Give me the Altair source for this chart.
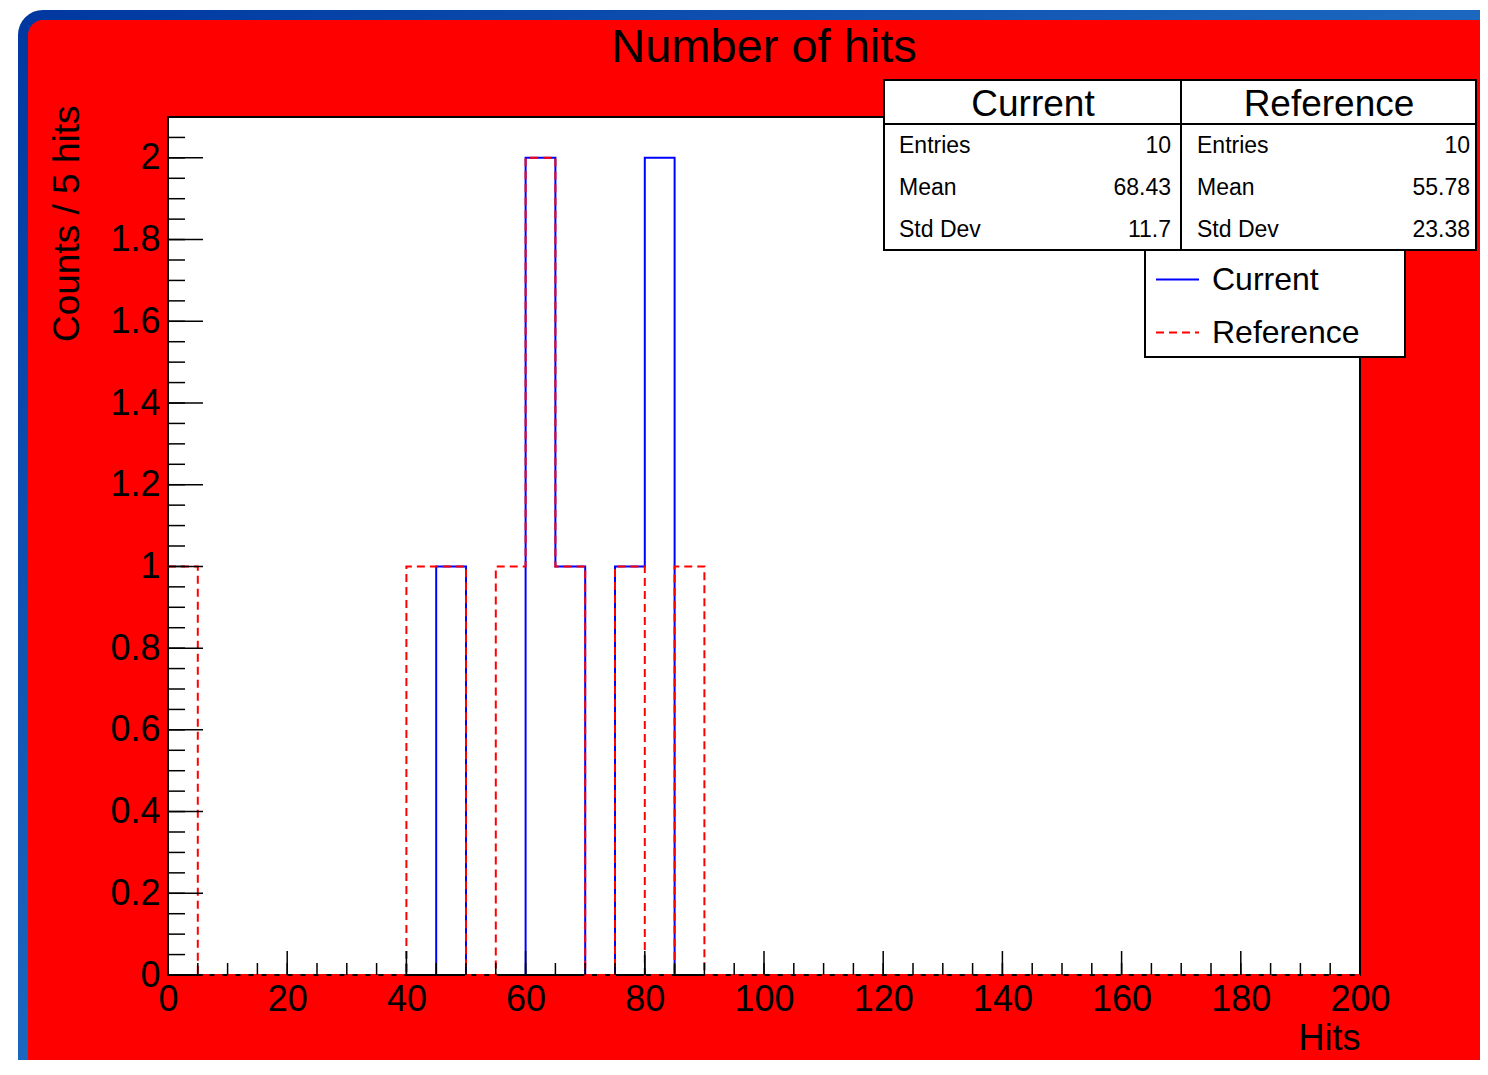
import altair as alt
import pandas as pd

FONT = "Liberation Sans"

# ---------------- data ----------------
bin_width = 5
x_domain = [0, 200]
y_domain = [0, 2.1]
current_counts = [0, 0, 0, 0, 0, 0, 0, 0, 0, 1,
                  0, 0, 2, 1, 0, 1, 2, 0, 0, 0,
                  0, 0, 0, 0, 0, 0, 0, 0, 0, 0,
                  0, 0, 0, 0, 0, 0, 0, 0, 0, 0]
reference_counts = [1, 0, 0, 0, 0, 0, 0, 0, 1, 1,
                    0, 1, 2, 1, 0, 1, 0, 1, 0, 0,
                    0, 0, 0, 0, 0, 0, 0, 0, 0, 0,
                    0, 0, 0, 0, 0, 0, 0, 0, 0, 0]
series_names = ["Current", "Reference"]
series_colors = ["#0000ff", "#ff0000"]
series_dashes = [[1, 0], [8, 5]]
stat_names = ["Entries", "Mean", "Std Dev"]
current_stats = ["10", "68.43", "11.7"]
reference_stats = ["10", "55.78", "23.38"]
x_tick_values = [0, 20, 40, 60, 80, 100, 120, 140, 160, 180, 200]
y_tick_values = [0, 0.2, 0.4, 0.6, 0.8, 1, 1.2, 1.4, 1.6, 1.8, 2]
x_minor_step = 5
y_minor_step = 0.05

title_text = "Number of hits"
x_title = "Hits"
y_title = "Counts / 5 hits"

# ---------------- tables ----------------
rows = []
for name, counts in zip(series_names, [current_counts, reference_counts]):
    for i, c in enumerate(counts):
        rows.append({"x": i * bin_width, "count": c, "series": name})
    rows.append({"x": len(counts) * bin_width, "count": counts[-1], "series": name})
hist = pd.DataFrame(rows)

x_minor = pd.DataFrame({"v": [i * x_minor_step for i in range(int(x_domain[1] / x_minor_step) + 1)]})
y_minor = pd.DataFrame({"v": [round(i * y_minor_step, 2) for i in range(int(round(y_domain[1] / y_minor_step)) + 1)]})
x_major = pd.DataFrame({"v": x_tick_values})
y_major = pd.DataFrame({"v": y_tick_values})
one = pd.DataFrame({"a": [0]})

W, H = 1192, 858

xs = alt.Scale(domain=x_domain, nice=False, zero=False)
ys = alt.Scale(domain=y_domain, nice=False)

x_axis = alt.Axis(values=x_tick_values, title=x_title, ticks=False, domain=False, grid=False,
                  labelFont=FONT, labelFontSize=36, labelColor="black", labelPadding=7,
                  labelFlush=False, zindex=1,
                  titleFont=FONT, titleFontSize=36, titleFontWeight="normal", titleColor="black",
                  titleX=W, titleY=63, titleAlign="right", titleBaseline="middle")
y_axis = alt.Axis(values=y_tick_values, format="~g", title=y_title, ticks=False, domain=False,
                  grid=False, labelFont=FONT, labelFontSize=36, labelColor="black",
                  labelPadding=8, labelFlush=False, zindex=1,
                  titleFont=FONT, titleFontSize=37, titleFontWeight="normal", titleColor="black",
                  titleAngle=270, titleX=-101, titleY=-12, titleAlign="right",
                  titleBaseline="middle")

legend = alt.Legend(title=None, orient="none", legendX=987, legendY=140, padding=0,
                    symbolType="stroke", symbolSize=1849, symbolStrokeWidth=2,
                    labelFont=FONT, labelFontSize=32, labelColor="black", labelOffset=12,
                    rowPadding=14)
color_enc = alt.Color("series:N", scale=alt.Scale(domain=series_names, range=series_colors),
                      legend=legend)
dash_enc = alt.StrokeDash("series:N", scale=alt.Scale(domain=series_names, range=series_dashes),
                          legend=legend)

gradient = alt.LinearGradient(gradient="linear",
                              stops=[alt.GradientStop(color="#0038a0", offset=0),
                                     alt.GradientStop(color="#3a9ae0", offset=1)],
                              x1=0, y1=0, x2=1, y2=1)

background = alt.Chart(one).mark_rect(fill="#ff0000", stroke=gradient, strokeWidth=10,
                                      cornerRadius=20).encode(
    x=alt.value(-145), x2=alt.value(W + 170), y=alt.value(-102), y2=alt.value(H + 150))

plot_area = alt.Chart(one).mark_rect(fill="white").encode(
    x=alt.value(0), x2=alt.value(W), y=alt.value(0), y2=alt.value(H))

frame = alt.Chart(one).mark_rect(fillOpacity=0, stroke="black", strokeWidth=2).encode(
    x=alt.value(0), x2=alt.value(W), y=alt.value(0), y2=alt.value(H))


def hist_layer(name):
    return alt.Chart(hist).transform_filter(alt.datum.series == name).mark_line(
        interpolate="step-after", strokeWidth=2).encode(
        x=alt.X("x:Q", scale=xs, axis=x_axis),
        y=alt.Y("count:Q", scale=ys, axis=y_axis),
        color=color_enc, strokeDash=dash_enc)


def xtick(df, length):
    return alt.Chart(df).mark_rule(color="black", strokeWidth=1.5).encode(
        x=alt.X("v:Q", scale=xs, axis=x_axis), y=alt.value(H), y2=alt.value(H - length))


def ytick(df, length):
    return alt.Chart(df).mark_rule(color="black", strokeWidth=1.5).encode(
        y=alt.Y("v:Q", scale=ys, axis=y_axis), x=alt.value(0), x2=alt.value(length))


def box(x1, x2, y1, y2):
    return alt.Chart(one).mark_rect(fill="white", stroke="black", strokeWidth=2).encode(
        x=alt.value(x1), x2=alt.value(x2), y=alt.value(y1), y2=alt.value(y2))


def label(t, x, y, size, align):
    return alt.Chart(pd.DataFrame({"t": [t]})).mark_text(
        align=align, baseline="middle", font=FONT, fontSize=size, color="black").encode(
        x=alt.value(x), y=alt.value(y), text="t:N")


stat_layers = [box(716, 1013, -37, 133), box(1013, 1308, -37, 133),
               alt.Chart(one).mark_rule(color="black", strokeWidth=2).encode(
                   x=alt.value(716), x2=alt.value(1308), y=alt.value(7)),
               label(series_names[0], 865, -12, 37, "center"),
               label(series_names[1], 1161, -12, 37, "center")]
row_y = [29, 71, 113]
for name, cv, rv, yy in zip(stat_names, current_stats, reference_stats, row_y):
    stat_layers += [label(name, 731, yy, 23, "left"), label(cv, 1003, yy, 23, "right"),
                    label(name, 1029, yy, 23, "left"), label(rv, 1302, yy, 23, "right")]

legend_box = box(977, 1237, 133, 240)

chart = alt.layer(
    background, plot_area,
    hist_layer("Current"), frame, hist_layer("Reference"),
    xtick(x_minor, 12), xtick(x_major, 24), ytick(y_minor, 17), ytick(y_major, 35),
    *stat_layers, legend_box
).properties(
    width=W, height=H,
    title=alt.TitleParams(title_text, font=FONT, fontSize=47, fontWeight="normal",
                          color="black", frame="group", anchor="middle", offset=0, dy=99,
                          baseline="alphabetic", zindex=1),
    autosize=alt.AutoSizeParams(type="none"),
    padding={"left": 160, "top": 109, "right": 120, "bottom": 85},
).configure(background="white").configure_view(stroke=None)

chart.save("out.html", embed_options={"renderer": "svg", "actions": False})
